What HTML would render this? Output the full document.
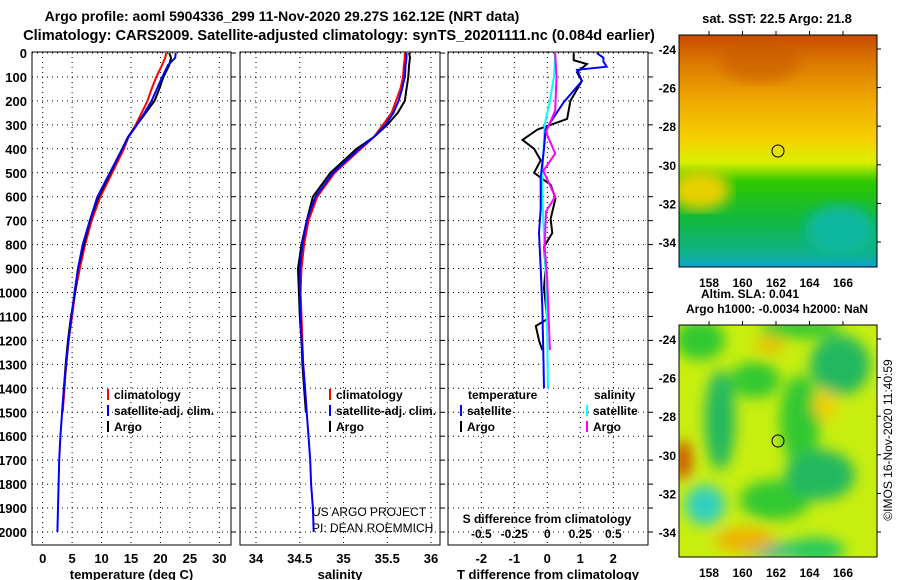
<!DOCTYPE html>
<html><head><meta charset="utf-8"><style>
body{margin:0;background:#fff;}
svg{display:block;font-family:"Liberation Sans",sans-serif;font-weight:bold;}
</style></head><body>
<svg id="c" width="900" height="580" viewBox="0 0 900 580">
<defs>
<linearGradient id="sstg" x1="0" y1="0" x2="0" y2="1">
<stop offset="0" stop-color="#c84a00"/><stop offset="0.12" stop-color="#dc7a00"/><stop offset="0.28" stop-color="#f0a800"/><stop offset="0.45" stop-color="#f5d000"/><stop offset="0.55" stop-color="#d8f000"/><stop offset="0.63" stop-color="#30c800"/><stop offset="0.8" stop-color="#10b840"/><stop offset="0.95" stop-color="#10b090"/><stop offset="1" stop-color="#10a0d0"/>
</linearGradient>
<filter id="bl"><feGaussianBlur stdDeviation="7"/></filter>
<clipPath id="cp1"><rect x="679" y="35" width="198" height="232"/></clipPath>
<clipPath id="cp2"><rect x="679" y="325" width="198" height="232"/></clipPath>
</defs>
<text x="282" y="21" font-size="14" text-anchor="middle">Argo profile: aoml 5904336_299 11-Nov-2020 29.27S 162.12E (NRT data)</text>
<text x="339" y="40" font-size="14.6" text-anchor="middle">Climatology: CARS2009. Satellite-adjusted climatology: synTS_20201111.nc (0.084d earlier)</text>
<g id="p1"></g>
<g id="p2"></g>
<g id="p3"></g>
<g>
<text x="777" y="23" font-size="13" text-anchor="middle">sat. SST: 22.5 Argo: 21.8</text>
<g clip-path="url(#cp1)"><rect x="679" y="35" width="198" height="232" fill="url(#sstg)"/>
<ellipse cx="760" cy="60" rx="40" ry="22" fill="#c85a00" opacity="0.6" filter="url(#bl)"/>
<ellipse cx="700" cy="190" rx="30" ry="20" fill="#e8d000" filter="url(#bl)"/>
<ellipse cx="840" cy="230" rx="35" ry="25" fill="#10b8a0" filter="url(#bl)"/></g>
<rect x="679" y="35" width="198" height="232" fill="none" stroke="#000"/>
<circle cx="778" cy="151" r="6" fill="none" stroke="#000"/>
<text x="750" y="298" font-size="12" text-anchor="middle">Altim. SLA: 0.041</text>
</g>
<g>
<text x="777" y="313" font-size="12" text-anchor="middle">Argo h1000: -0.0034 h2000: NaN</text>
<g clip-path="url(#cp2)"><rect x="679" y="325" width="198" height="232" fill="#c8ee10"/>
<g filter="url(#bl)">
<ellipse cx="700" cy="340" rx="25" ry="20" fill="#30c830"/>
<ellipse cx="800" cy="328" rx="40" ry="10" fill="#30c830"/>
<ellipse cx="840" cy="365" rx="30" ry="30" fill="#20b860"/>
<ellipse cx="755" cy="380" rx="25" ry="18" fill="#30c830"/>
<ellipse cx="800" cy="420" rx="20" ry="45" fill="#30c830"/>
<ellipse cx="775" cy="500" rx="35" ry="20" fill="#30c830"/>
<ellipse cx="720" cy="420" rx="15" ry="50" fill="#20b860"/>
<ellipse cx="705" cy="505" rx="20" ry="20" fill="#30d0c0"/>
<ellipse cx="820" cy="475" rx="35" ry="25" fill="#20b860"/>
<ellipse cx="815" cy="550" rx="30" ry="12" fill="#20c860"/>
<ellipse cx="770" cy="550" rx="25" ry="8" fill="#20b8a0"/>
<ellipse cx="683" cy="460" rx="8" ry="20" fill="#d04000"/>
<ellipse cx="745" cy="540" rx="30" ry="12" fill="#f0b000"/>
<ellipse cx="770" cy="345" rx="15" ry="7" fill="#f0b800"/>
<ellipse cx="825" cy="405" rx="12" ry="15" fill="#f0d000"/>
</g></g>
<rect x="679" y="325" width="198" height="232" fill="none" stroke="#000"/>
<circle cx="778" cy="441" r="6" fill="none" stroke="#000"/>
<text x="892" y="440" font-size="12" font-weight="normal" transform="rotate(-90 892 440)" text-anchor="middle">©IMOS 16-Nov-2020 11:40:59</text>
</g>
<g id="maps-axes"></g>
</svg>
<script>
const depthTicks=[0,100,200,300,400,500,600,700,800,900,1000,1100,1200,1300,1400,1500,1600,1700,1800,1900,2000];
const tempTicks=[0,5,10,15,20,25,30];
const salTicks=[34,34.5,35,35.5,36];
const salTickLabels=["34","34.5","35","35.5","36"];
const tdTicks=[-2,-1,0,1,2];
const sdTicks=[-0.5,-0.25,0,0.25,0.5];
const latTicks=[-24,-26,-28,-30,-32,-34];
const lonTicks=[158,160,162,164,166];

const tDepth=[0,20,50,100,150,200,250,300,350,400,500,600,700,800,900,1000,1100,1200,1300,1400,1500];
const tArgo=[21.5,21.8,21.5,20.5,19.8,19,17.5,16,14.5,13.5,11.5,9.5,8,7,6,5.5,4.8,4.3,3.9,3.6,3.3];
const tClim=[21,20.8,20.3,19.3,18.5,17.8,16.8,15.8,14.6,13.8,11.8,9.8,8.3,7.2,6.3,5.5,5,4.4,4,3.7,3.4];
const sDepthFull=[0,20,50,100,150,200,250,300,350,400,500,600,700,800,900,1000,1100,1200,1300,1400,1500,1600,1700,1800,1900,2000];
const tSat=[22.6,22.5,21.3,20.3,19.4,18.5,17.3,16,14.6,13.5,11.4,9.3,8,6.8,6,5.4,4.9,4.4,4,3.6,3.3,3,2.8,2.7,2.6,2.5];
const sArgo=[35.75,35.76,35.75,35.74,35.72,35.7,35.62,35.5,35.35,35.15,34.85,34.65,34.58,34.52,34.48,34.49,34.5,34.52,34.53,34.55,34.57];
const sClim=[35.7,35.7,35.69,35.68,35.65,35.6,35.55,35.45,35.35,35.2,34.9,34.7,34.6,34.55,34.52,34.51,34.52,34.53,34.54,34.56,34.58];
const sSat=[35.72,35.72,35.71,35.7,35.67,35.63,35.57,35.48,35.35,35.18,34.88,34.68,34.58,34.53,34.5,34.5,34.51,34.52,34.54,34.56,34.58,34.6,34.62,34.63,34.65,34.66];

const dTArgoDepth=[0,30,46,80,117,200,275,320,363,400,448,500,550,607,693,751,809,900,982,1111,1140,1200,1240];
const dTArgo=[0.8,0.8,1.2,0.9,1.05,0.7,0.6,-0.3,-0.75,-0.4,-0.2,-0.4,0.1,0.25,0.1,0.15,-0.1,-0.05,-0.1,0,-0.35,-0.25,-0.15];
const dTSatDepth=[0,20,36,57,70,117,205,320,400,520,650,751,900,1060,1250,1400];
const dTSat=[1.5,1.7,1.7,1.8,0.9,1.05,0.5,-0.05,-0.1,-0.2,-0.2,-0.25,-0.2,-0.15,-0.12,-0.1];
const dSArgoDepth=[0,100,240,330,420,492,600,662,810,950,1100,1240];
const dSArgo=[0.06,0.07,0.06,-0.01,0.06,-0.03,0.06,-0.01,-0.02,0,0.01,0.02];
const dSSatDepth=[0,100,200,300,420,545,700,950,1200,1400];
const dSSat=[0.06,0.05,0.02,-0.02,-0.03,-0.04,-0.03,-0.01,0,0.005];

const NS='http://www.w3.org/2000/svg';
function mk(p,t,a){const e=document.createElementNS(NS,t);for(const k in a)e.setAttribute(k,a[k]);p.appendChild(e);return e;}
const yD=d=>53+d*0.2395;
const ptop=52,pbot=545;
function frame(g,x0,x1,xs,ticks,labels,xlab,ylabels){
  ticks.forEach((t,i)=>{const x=xs(t);
    const l=mk(g,'line',{x1:x,x2:x,y1:ptop,y2:pbot,stroke:'#000','stroke-dasharray':'1,4'});
    
    const tx=mk(g,'text',{x:x,y:563,'font-size':13,'text-anchor':'middle'});tx.textContent=labels[i];
    });
  depthTicks.forEach(d=>{const y=yD(d);
    const l=mk(g,'line',{x1:x0,x2:x1,y1:y,y2:y,stroke:'#000','stroke-dasharray':'1,4'});
    
    mk(g,'line',{x1:x1,x2:x1+5,y1:y,y2:y,stroke:'#000'});
    if(ylabels){const tx=mk(g,'text',{x:x0-5,y:y+5,'font-size':13,'text-anchor':'end'});tx.textContent=d;
      }});
  const r=mk(g,'rect',{x:x0,y:ptop,width:x1-x0,height:pbot-ptop,fill:'none',stroke:'#000'});
  
  const xl=mk(g,'text',{x:(x0+x1)/2,y:579,'font-size':13,'text-anchor':'middle'});xl.textContent=xlab;
  
}
function line(g,xs,xv,dv,col,name){let s='';
  xv.forEach((v,i)=>{s+=(i?'L':'M')+xs(v).toFixed(1)+','+yD(dv[i]).toFixed(1);});
  const p=mk(g,'path',{d:s,fill:'none',stroke:col,'stroke-width':2});
  }
function leg(g,x,y,col,txt){mk(g,'line',{x1:x,x2:x,y1:y-10,y2:y+1,stroke:col,'stroke-width':2});
  const t=mk(g,'text',{x:x+6,y:y,'font-size':12});t.textContent=txt;
  }

const p1=document.getElementById('p1');
const xT=v=>42.7+v*(219.3-42.7)/30;
frame(p1,32,231,xT,tempTicks,tempTicks.map(String),'temperature (deg C)',true);
line(p1,xT,tClim,tDepth,'#ff0000','temp-climatology-line');
line(p1,xT,tArgo,tDepth,'#000','temp-argo-line');
line(p1,xT,tSat,sDepthFull,'#0000ff','temp-satellite-line');
leg(p1,108,399,'#f00','climatology');leg(p1,108,415,'#00f','satellite-adj. clim.');leg(p1,108,431,'#000','Argo');

const p2=document.getElementById('p2');
const xS=v=>256+(v-34)*87.5;
frame(p2,240,440,xS,salTicks,salTickLabels,'salinity',false);
line(p2,xS,sClim,tDepth,'#ff0000','sal-climatology-line');
line(p2,xS,sArgo,tDepth,'#000','sal-argo-line');
line(p2,xS,sSat,sDepthFull,'#0000ff','sal-satellite-line');
leg(p2,330,399,'#f00','climatology');leg(p2,330,415,'#00f','satellite-adj. clim.');leg(p2,330,431,'#000','Argo');
const a1=mk(p2,'text',{x:312,y:516,'font-size':12,'font-weight':'normal'});a1.textContent='US ARGO PROJECT';
const a2=mk(p2,'text',{x:312,y:532,'font-size':12,'font-weight':'normal'});a2.textContent='PI: DEAN ROEMMICH';

const p3=document.getElementById('p3');
const xTd=v=>547.3+v*33;
const xSd=v=>547.3+v*132;
frame(p3,448,648,xTd,tdTicks,tdTicks.map(String),'T difference from climatology',false);
sdTicks.forEach(t=>{const tx=mk(p3,'text',{x:xSd(t),y:538,'font-size':12,'text-anchor':'middle'});tx.textContent=String(t);
  });
const st=mk(p3,'text',{x:547,y:523,'font-size':12,'text-anchor':'middle'});st.textContent='S difference from climatology';
line(p3,xTd,dTArgo,dTArgoDepth,'#000','tdiff-argo-line');
line(p3,xSd,dSSat,dSSatDepth,'#00ffff','sdiff-satellite-line');
line(p3,xTd,dTSat,dTSatDepth,'#0000ff','tdiff-satellite-line');
line(p3,xSd,dSArgo,dSArgoDepth,'#ff00ff','sdiff-argo-line');
const h1=mk(p3,'text',{x:468,y:399,'font-size':12});h1.textContent='temperature';
const h2=mk(p3,'text',{x:594,y:399,'font-size':12});h2.textContent='salinity';
leg(p3,461,415,'#00f','satellite');leg(p3,461,431,'#000','Argo');
leg(p3,587,415,'#0ff','satellite');leg(p3,587,431,'#f0f','Argo');

const ma=document.getElementById('maps-axes');
const xLon=v=>709+(v-158)*(843-709)/8;
[[35,267],[325,557]].forEach(([t,b])=>{
  const yLat=v=>t+14+(-24-v)*(193/10);
  latTicks.forEach(v=>{const y=yLat(v);
    mk(ma,'line',{x1:877,x2:881,y1:y,y2:y,stroke:'#000'});
    const tx=mk(ma,'text',{x:676,y:y+5,'font-size':12,'text-anchor':'end'});tx.textContent=String(v);
    });
  lonTicks.forEach(v=>{const x=xLon(v);
    mk(ma,'line',{x1:x,x2:x,y1:t-4,y2:t,stroke:'#000'});
    const tx=mk(ma,'text',{x:x,y:b+20,'font-size':12,'text-anchor':'middle'});tx.textContent=String(v);
    });
});
</script>
</body></html>
